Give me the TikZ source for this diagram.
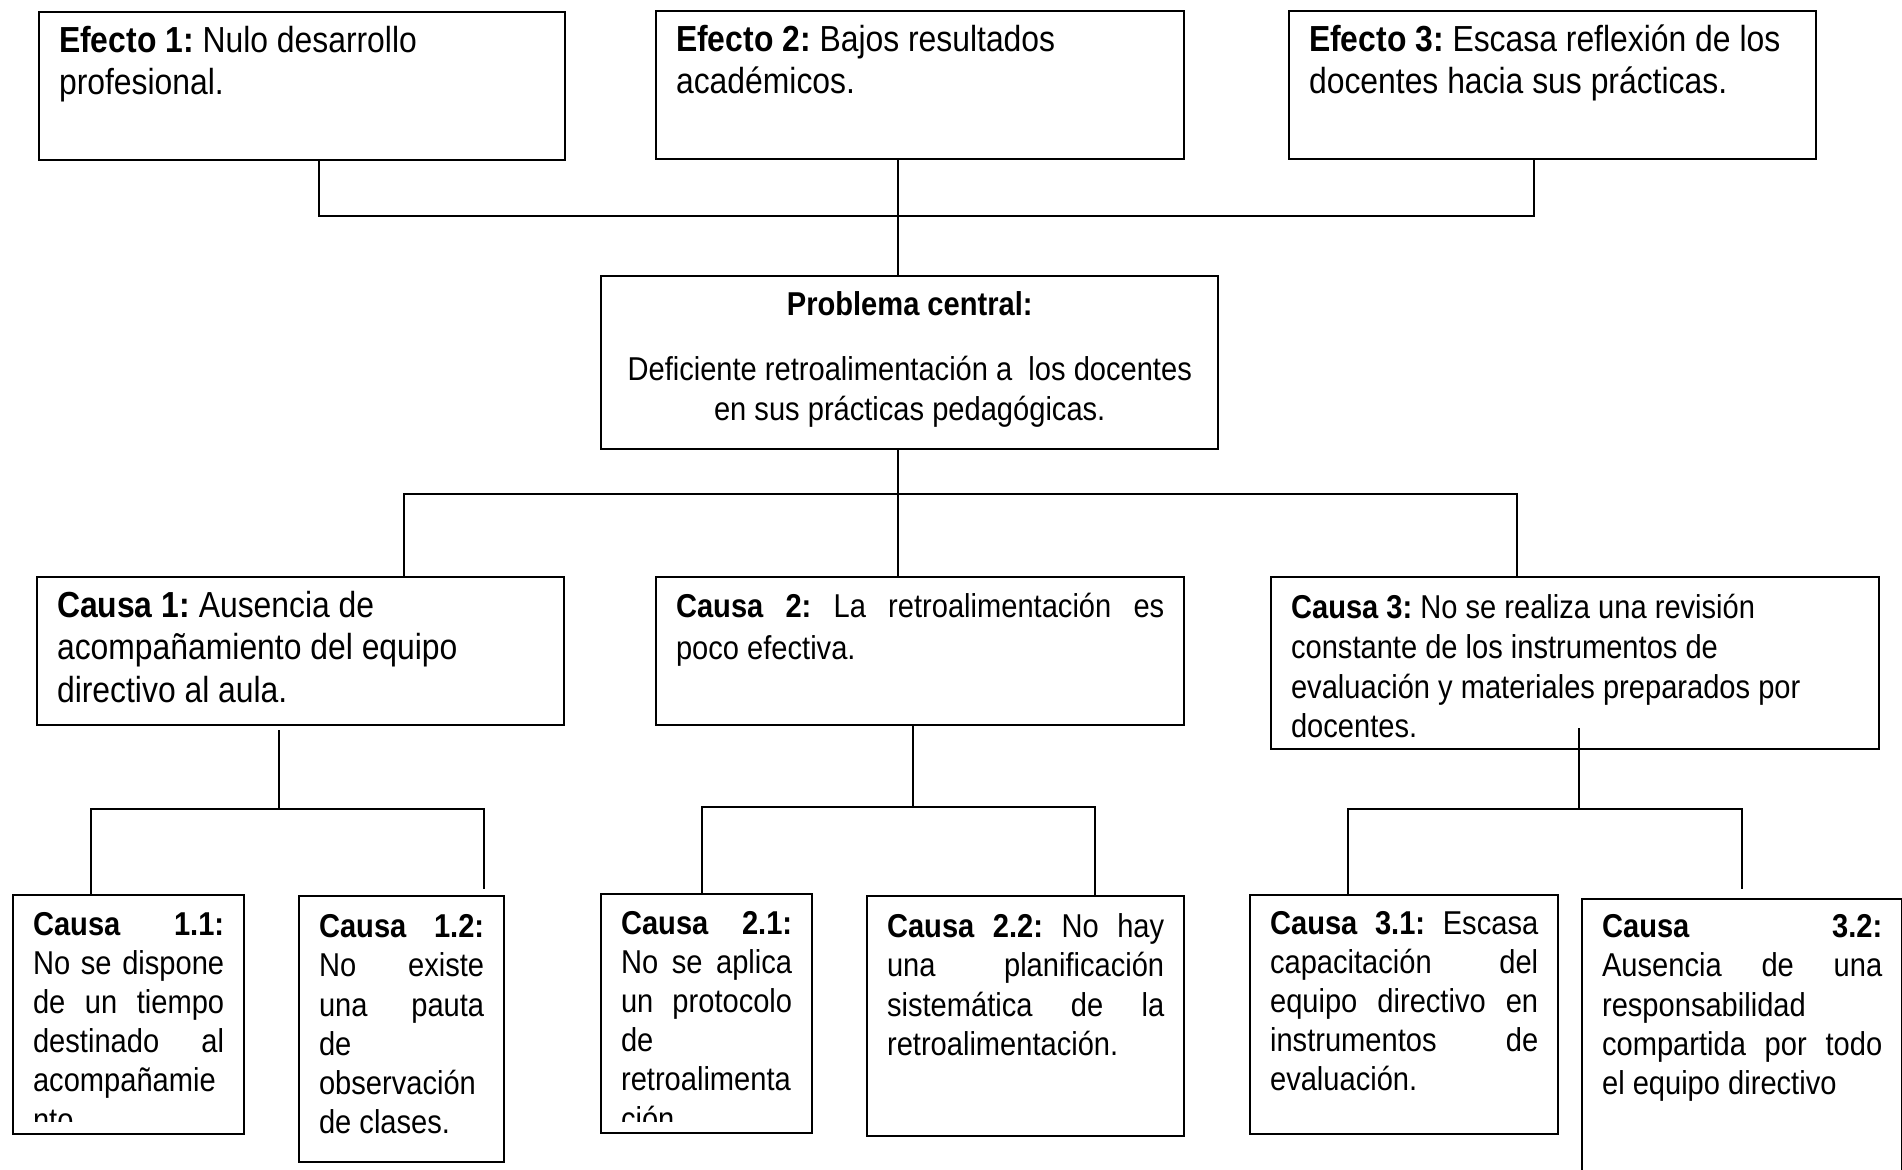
\documentclass[tikz,border=0pt]{standalone}
\usepackage{fontspec}
\setmainfont{Liberation Sans}[FakeStretch=0.88]
\usepackage{tikz}
\usetikzlibrary{positioning,calc}

\frenchspacing
\hyphenpenalty=10000
\exhyphenpenalty=10000
\newcommand{\fgrande}{\fontsize{10.3pt}{12.1pt}\selectfont\frenchspacing}
\newcommand{\fchico}{\fontsize{9.4pt}{11.15pt}\selectfont\frenchspacing}
\newcommand{\jl}[1]{\makebox[\hsize][s]{\spaceskip=0pt\xspaceskip=0pt #1}}

\begin{document}
\begin{tikzpicture}[
    x=0.01cm,
    y=-0.01cm,
    caja/.style={
        draw=black,
        line width=0.6pt,
        anchor=north west,
        align=flush left,
        inner xsep=0.2cm,
        inner ysep=0pt,
        text height=0.40cm,
        font=\fchico,
        execute at begin node={\spaceskip=0pt\xspaceskip=0pt}
    },
    linea/.style={
        line width=0.6pt
    }
]
\useasboundingbox (0,0) rectangle (1902,1170);
\clip (0,0) rectangle (1902,1170);

% Efectos
\node[caja, font=\fgrande, text width=4.86cm, text depth=1.08cm] (ef1) at (38,11) {
    \textbf{Efecto 1:} Nulo desarrollo\\
    profesional.
};
\node[caja, font=\fgrande, text width=4.88cm, text depth=1.08cm] (ef2) at (655,10) {
    \textbf{Efecto 2:} Bajos resultados\\
    académicos.
};
\node[caja, font=\fgrande, text width=4.87cm, text depth=1.08cm] (ef3) at (1288,10) {
    \mbox{\textbf{Efecto 3:} Escasa reflexión de los}\\
    docentes hacia sus prácticas.
};

% Problema central
\node[caja, align=flush center, inner xsep=0.05cm, font={\fontsize{9.4pt}{11.4pt}\selectfont\frenchspacing}, text width=6.07cm, text height=0.39cm, text depth=1.34cm] (prob) at (600,275) {
    \textbf{Problema central:}\\[7.3pt]
    \mbox{Deficiente retroalimentación a\ \ los docentes}\\
    en sus prácticas pedagógicas.
};

% Causas
\node[caja, font=\fgrande, text width=4.87cm, text depth=1.08cm] (c1) at (36,576) {
    \textbf{Causa 1:} Ausencia de\\
    acompañamiento del equipo\\
    directivo al aula.
};
\node[caja, font={\fontsize{9.4pt}{12.1pt}\selectfont\frenchspacing}, text width=4.88cm, text depth=1.08cm] (c2) at (655,576) {
    \jl{\textbf{Causa 2:} La retroalimentación es}\\
    poco efectiva.
};
\node[caja, font={\fontsize{9.4pt}{11.3pt}\selectfont\frenchspacing}, text width=5.68cm, text height=0.415cm, text depth=1.305cm] (c3) at (1270,576) {
    \textbf{Causa 3:} No se realiza una revisión\\
    constante de los instrumentos de\\
    evaluación y materiales preparados por\\
    docentes.
};

% Subcausas
\node[caja, text width=1.91cm, text depth=1.99cm] (c11) at (12,894) {};
\begin{scope}
\clip (12,894) rectangle (243,1121);
\node[caja, draw=none, text width=1.91cm, text depth=1.99cm] (t11) at (c11.north west) {
    \jl{\textbf{Causa 1.1:}}\\
    \jl{No se dispone}\\
    \jl{de un tiempo}\\
    \jl{destinado al}\\
    acompañamie\\
    nto.
};
\end{scope}
\node[caja, text width=1.65cm, text height=0.415cm, text depth=2.245cm] (c12) at (298,895) {
    \jl{\textbf{Causa 1.2:}}\\
    \jl{No existe}\\
    \jl{una pauta}\\
    de\\
    observación\\
    de clases.
};
\node[caja, text width=1.71cm, text depth=1.99cm] (c21) at (600,893) {};
\begin{scope}
\clip (600,893) rectangle (811,1121);
\node[caja, draw=none, text width=1.71cm, text depth=1.99cm] (t21) at (c21.north west) {
    \jl{\textbf{Causa 2.1:}}\\
    \jl{No se aplica}\\
    \jl{un protocolo}\\
    de\\
    retroalimenta\\
    ción.
};
\end{scope}
\node[caja, text width=2.77cm, text height=0.415cm, text depth=1.985cm] (c22) at (866,895) {
    \jl{\textbf{Causa 2.2:} No hay}\\
    \jl{una planificación}\\
    \jl{sistemática de la}\\
    retroalimentación.
};
\node[caja, text width=2.68cm, text height=0.39cm, text depth=2.0cm] (c31) at (1249,894) {
    \jl{\textbf{Causa 3.1:} Escasa}\\
    \jl{capacitación del}\\
    \jl{equipo directivo en}\\
    \jl{instrumentos de}\\
    evaluación.
};
\node[caja, text width=2.80cm, text height=0.385cm, text depth=2.6cm] (c32) at (1581,898) {
    \jl{\textbf{Causa 3.2:}}\\
    \jl{Ausencia de una}\\
    responsabilidad\\
    \jl{compartida por todo}\\
    el equipo directivo
};

% Uniones de efectos
\coordinate (t1) at (319,216);
\coordinate (t2) at (898,216);
\coordinate (t3) at (1534,216);
\draw[linea] (ef1.south -| t1) -- (t1) -- (t3) -- (ef3.south -| t3);
\draw[linea] (ef2.south -| t2) -- (t2) -- (prob.north -| t2);

% Uniones de causas
\coordinate (m1) at (404,494);
\coordinate (m2) at (898,494);
\coordinate (m3) at (1517,494);
\draw[linea] (prob.south -| m2) -- (c2.north -| m2);
\draw[linea] (c1.north -| m1) -- (m1) -- (m3) -- (c3.north -| m3);

% Subcausas de la causa 1
\coordinate (a1) at (279,809);
\coordinate (a2) at (91,809);
\coordinate (a3) at (484,809);
\coordinate (a4) at (484,889);
\draw[linea] ($(c1.south -| a1)+(0,4)$) -- (a1);
\draw[linea] (c11.north -| a2) -- (a2) -- (a3) -- (a4);

% Subcausas de la causa 2
\coordinate (b1) at (913,807);
\coordinate (b2) at (702,807);
\coordinate (b3) at (1095,807);
\draw[linea] (c2.south -| b1) -- (b1);
\draw[linea] (c21.north -| b2) -- (b2) -- (b3) -- (c22.north -| b3);

% Subcausas de la causa 3
\coordinate (d0) at (1579,728);
\coordinate (d1) at (1579,809);
\coordinate (d2) at (1348,809);
\coordinate (d3) at (1742,809);
\coordinate (d4) at (1742,889);
\draw[linea] (d0) -- (d1);
\draw[linea] (c31.north -| d2) -- (d2) -- (d3) -- (d4);

\end{tikzpicture}
\end{document}
